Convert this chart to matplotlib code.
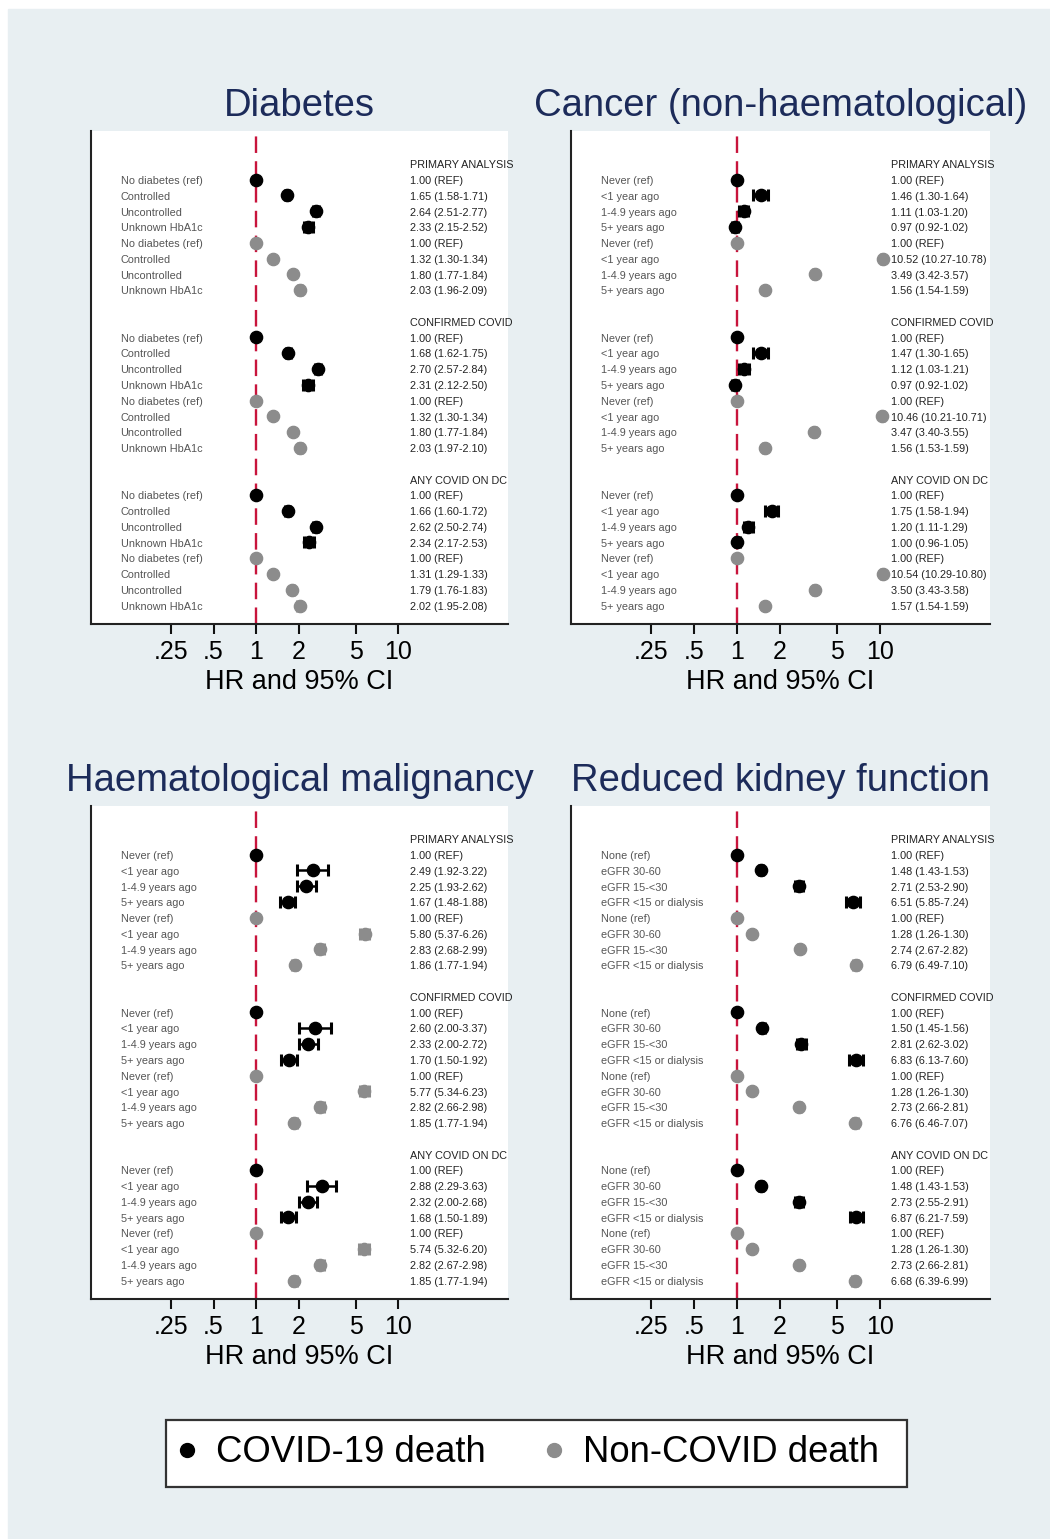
import matplotlib
matplotlib.use("Agg")
import matplotlib.pyplot as plt
from matplotlib.lines import Line2D
from matplotlib.patches import Rectangle
from matplotlib.ticker import NullLocator
import numpy as np

plt.rcParams["font.family"] = ["Liberation Sans", "DejaVu Sans"]

# ---- data -------------------------------------------------------------
ANALYSES = ["PRIMARY ANALYSIS", "CONFIRMED COVID", "ANY COVID ON DC"]
OUTCOMES = ["COVID-19 death", "Non-COVID death"]
TICK_VALUES = [0.25, 0.5, 1, 2, 5, 10]
TICK_LABELS = [".25", ".5", "1", "2", "5", "10"]

DIAB_TITLE = "Diabetes"
DIAB_LABELS = ["No diabetes (ref)", "Controlled", "Uncontrolled", "Unknown HbA1c"]
DIAB_HR = [1.00, 1.65, 2.64, 2.33, 1.00, 1.32, 1.80, 2.03,
           1.00, 1.68, 2.70, 2.31, 1.00, 1.32, 1.80, 2.03,
           1.00, 1.66, 2.62, 2.34, 1.00, 1.31, 1.79, 2.02]
DIAB_LO = [1.00, 1.58, 2.51, 2.15, 1.00, 1.30, 1.77, 1.96,
           1.00, 1.62, 2.57, 2.12, 1.00, 1.30, 1.77, 1.97,
           1.00, 1.60, 2.50, 2.17, 1.00, 1.29, 1.76, 1.95]
DIAB_HI = [1.00, 1.71, 2.77, 2.52, 1.00, 1.34, 1.84, 2.09,
           1.00, 1.75, 2.84, 2.50, 1.00, 1.34, 1.84, 2.10,
           1.00, 1.72, 2.74, 2.53, 1.00, 1.33, 1.83, 2.08]

CANCER_TITLE = "Cancer (non-haematological)"
CANCER_LABELS = ["Never (ref)", "<1 year ago", "1-4.9 years ago", "5+ years ago"]
CANCER_HR = [1.00, 1.46, 1.11, 0.97, 1.00, 10.52, 3.49, 1.56,
             1.00, 1.47, 1.12, 0.97, 1.00, 10.46, 3.47, 1.56,
             1.00, 1.75, 1.20, 1.00, 1.00, 10.54, 3.50, 1.57]
CANCER_LO = [1.00, 1.30, 1.03, 0.92, 1.00, 10.27, 3.42, 1.54,
             1.00, 1.30, 1.03, 0.92, 1.00, 10.21, 3.40, 1.53,
             1.00, 1.58, 1.11, 0.96, 1.00, 10.29, 3.43, 1.54]
CANCER_HI = [1.00, 1.64, 1.20, 1.02, 1.00, 10.78, 3.57, 1.59,
             1.00, 1.65, 1.21, 1.02, 1.00, 10.71, 3.55, 1.59,
             1.00, 1.94, 1.29, 1.05, 1.00, 10.80, 3.58, 1.59]

HAEM_TITLE = "Haematological malignancy"
HAEM_LABELS = ["Never (ref)", "<1 year ago", "1-4.9 years ago", "5+ years ago"]
HAEM_HR = [1.00, 2.49, 2.25, 1.67, 1.00, 5.80, 2.83, 1.86,
           1.00, 2.60, 2.33, 1.70, 1.00, 5.77, 2.82, 1.85,
           1.00, 2.88, 2.32, 1.68, 1.00, 5.74, 2.82, 1.85]
HAEM_LO = [1.00, 1.92, 1.93, 1.48, 1.00, 5.37, 2.68, 1.77,
           1.00, 2.00, 2.00, 1.50, 1.00, 5.34, 2.66, 1.77,
           1.00, 2.29, 2.00, 1.50, 1.00, 5.32, 2.67, 1.77]
HAEM_HI = [1.00, 3.22, 2.62, 1.88, 1.00, 6.26, 2.99, 1.94,
           1.00, 3.37, 2.72, 1.92, 1.00, 6.23, 2.98, 1.94,
           1.00, 3.63, 2.68, 1.89, 1.00, 6.20, 2.98, 1.94]

KIDNEY_TITLE = "Reduced kidney function"
KIDNEY_LABELS = ["None (ref)", "eGFR 30-60", "eGFR 15-<30", "eGFR <15 or dialysis"]
KIDNEY_HR = [1.00, 1.48, 2.71, 6.51, 1.00, 1.28, 2.74, 6.79,
             1.00, 1.50, 2.81, 6.83, 1.00, 1.28, 2.73, 6.76,
             1.00, 1.48, 2.73, 6.87, 1.00, 1.28, 2.73, 6.68]
KIDNEY_LO = [1.00, 1.43, 2.53, 5.85, 1.00, 1.26, 2.67, 6.49,
             1.00, 1.45, 2.62, 6.13, 1.00, 1.26, 2.66, 6.46,
             1.00, 1.43, 2.55, 6.21, 1.00, 1.26, 2.66, 6.39]
KIDNEY_HI = [1.00, 1.53, 2.90, 7.24, 1.00, 1.30, 2.82, 7.10,
             1.00, 1.56, 3.02, 7.60, 1.00, 1.30, 2.81, 7.07,
             1.00, 1.53, 2.91, 7.59, 1.00, 1.30, 2.81, 6.99]

# ---- style ------------------------------------------------------------
W, H = 1050, 1539
BG = "#e8eff2"
NAVY = "#1c2b5a"
RED = "#c8143c"
COLORS = ["#000000", "#8c8c8c"]
LABEL_GREY = "#555555"
TEXT_DARK = "#222222"
ROW_FS = 7.8


def px_rect(x0, y0, x1, y1):
    return [x0 / W, 1 - y1 / H, (x1 - x0) / W, (y1 - y0) / H]


def draw_panel(ax, title, labels, hr, lo, hi):
    hr, lo, hi = np.asarray(hr), np.asarray(lo), np.asarray(hi)
    ax.set_xscale("log")
    ax.set_xlim(0.0682, 59.5)
    ax.set_ylim(29.14, -2.09)
    ax.axvline(1, color=RED, lw=1.7, dashes=(7, 3.5), zorder=1)

    trans = ax.get_yaxis_transform()
    for g, name in enumerate(ANALYSES):
        head = 10 * g
        ax.text(0.764, head + 0.08, name, transform=trans, fontsize=ROW_FS,
                color=TEXT_DARK, va="center", ha="left")
        for o in range(2):
            idx = slice(8 * g + 4 * o, 8 * g + 4 * o + 4)
            rows = head + 1 + 4 * o + np.arange(4)
            h, l, u = hr[idx], lo[idx], hi[idx]
            ax.errorbar(h, rows, xerr=[h - l, u - h], fmt="o", color=COLORS[o],
                        ms=8.8, elinewidth=1.8, capsize=4.6, capthick=2.2,
                        zorder=3)
            for r, lab, hv, lv, uv in zip(rows, labels, h, l, u):
                ax.text(0.0716, r + 0.08, lab, transform=trans, fontsize=ROW_FS,
                        color=LABEL_GREY, va="center", ha="left")
                if "(ref)" in lab:
                    txt = f"{hv:.2f} (REF)"
                else:
                    txt = f"{hv:.2f} ({lv:.2f}-{uv:.2f})"
                ax.text(0.764, r + 0.08, txt, transform=trans, fontsize=ROW_FS,
                        color=TEXT_DARK, va="center", ha="left")

    ax.set_title(title, fontsize=27.5, color=NAVY, pad=11)
    ax.set_xticks(TICK_VALUES)
    ax.set_xticklabels(TICK_LABELS)
    ax.xaxis.set_minor_locator(NullLocator())
    ax.tick_params(axis="x", length=7.2, width=1.5, labelsize=18, pad=5,
                   color="#111111")
    ax.tick_params(axis="y", left=False, labelleft=False)
    for side in ["top", "right"]:
        ax.spines[side].set_visible(False)
    for side in ["left", "bottom"]:
        ax.spines[side].set_linewidth(1.5)
        ax.spines[side].set_color("#222222")
    ax.set_xlabel("HR and 95% CI", fontsize=19.5)
    ax.xaxis.label.set_va("baseline")
    ax.xaxis.set_label_coords(0.5, -0.1336)
    ax.set_facecolor("white")


fig = plt.figure(figsize=(W / 100, H / 100), dpi=100)
fig.patch.set_facecolor("white")
fig.patches.append(Rectangle((8 / W, 0), 1 - 8 / W, 1 - 9 / H,
                             transform=fig.transFigure, color=BG, zorder=-10))

panels = [
    (px_rect(90.7, 131, 508.3, 623.5), DIAB_TITLE, DIAB_LABELS, DIAB_HR, DIAB_LO, DIAB_HI),
    (px_rect(571, 131, 990, 623.5), CANCER_TITLE, CANCER_LABELS, CANCER_HR, CANCER_LO, CANCER_HI),
    (px_rect(90.7, 806, 508.3, 1298.5), HAEM_TITLE, HAEM_LABELS, HAEM_HR, HAEM_LO, HAEM_HI),
    (px_rect(571, 806, 990, 1298.5), KIDNEY_TITLE, KIDNEY_LABELS, KIDNEY_HR, KIDNEY_LO, KIDNEY_HI),
]
for rect, title, labels, hr, lo, hi in panels:
    ax = fig.add_axes(rect)
    draw_panel(ax, title, labels, hr, lo, hi)

# legend box
fig.patches.append(Rectangle((166 / W, 1 - 1487 / H), (907 - 166) / W, 67 / H,
                             transform=fig.transFigure, facecolor="white",
                             edgecolor="#333333", lw=1.6, zorder=1))
handles = [Line2D([], [], ls="none", marker="o", ms=10, color=c) for c in COLORS]
fig.legend(handles, OUTCOMES, loc="center left",
           bbox_to_anchor=(176 / W, 1 - 1453 / H), ncol=2, frameon=False,
           fontsize=26.3, handlelength=0.6, handletextpad=0.5,
           columnspacing=1.56, borderpad=0, borderaxespad=0)

fig.savefig("out.png", dpi=100)
